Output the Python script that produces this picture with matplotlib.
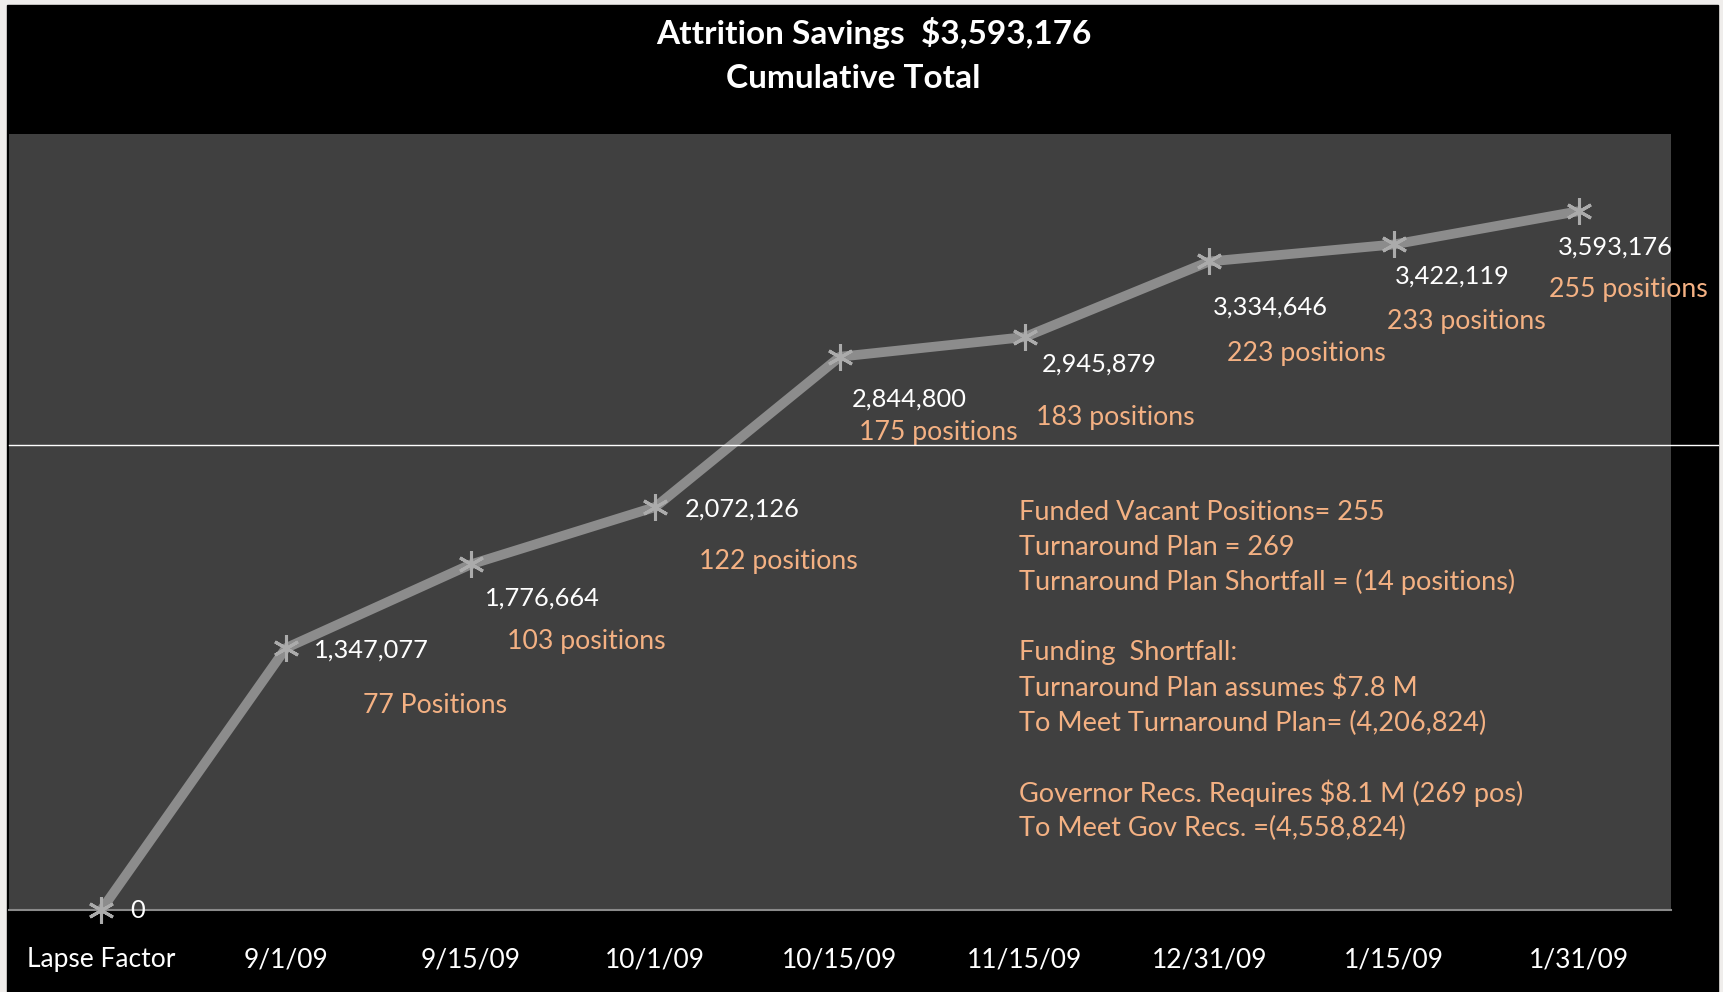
import matplotlib
matplotlib.use('Agg')
import matplotlib.pyplot as plt
from matplotlib.patches import Rectangle
from matplotlib.lines import Line2D

plt.rcParams['font.family'] = ['Lato', 'DejaVu Sans']

# data
categories = ['Lapse Factor', '9/1/09', '9/15/09', '10/1/09', '10/15/09',
              '11/15/09', '12/31/09', '1/15/09', '1/31/09']
savings = [0, 1347077, 1776664, 2072126, 2844800, 2945879, 3334646, 3422119, 3593176]
value_labels = ['0', '1,347,077', '1,776,664', '2,072,126', '2,844,800',
                '2,945,879', '3,334,646', '3,422,119', '3,593,176']
position_labels = [None, '77 Positions', '103 positions', '122 positions', '175 positions',
                   '183 positions', '223 positions', '233 positions', '255 positions']
notes = ['Funded Vacant Positions= 255',
         'Turnaround Plan = 269',
         'Turnaround Plan Shortfall = (14 positions)',
         '',
         'Funding  Shortfall:',
         'Turnaround Plan assumes $7.8 M',
         'To Meet Turnaround Plan= (4,206,824)',
         '',
         'Governor Recs. Requires $8.1 M (269 pos)',
         'To Meet Gov Recs. =(4,558,824)']

W, H = 1724, 992
fig = plt.figure(figsize=(W / 100, H / 100), dpi=100, facecolor='#efedeb')
fig.patches.append(Rectangle((7 / W, 0), (1718 - 7) / W, (H - 5) / H,
                             transform=fig.transFigure, color='black', zorder=0))

ax = fig.add_axes([9 / W, (H - 910) / H, (1671 - 9) / W, (910 - 134) / H])
ax.set_zorder(1)
ax.set_facecolor('#404040')
x = list(range(len(categories)))
ax.plot(x, savings, color='#8c8c8c', linewidth=7, solid_capstyle='butt', zorder=3)
ax.plot(x, savings, linestyle='none', marker=(6, 2, 0), markersize=19,
        markeredgewidth=2.2, color='#ababab', zorder=4, clip_on=False)
ax.set_xlim(-0.5, len(categories) - 0.5)
ax.set_ylim(0, 3.99e6)
ax.set_yticks([])
ax.set_xticks(x)
ax.set_xticklabels(categories, color='white', fontsize=19)
ax.tick_params(axis='x', length=0, pad=27)
for s in ['top', 'right', 'left']:
    ax.spines[s].set_visible(False)
ax.spines['bottom'].set_color('#8a8a8a')
ax.spines['bottom'].set_linewidth(1.5)

# label offsets in pixels (dx, dy down)
val_off = [(29, 0), (28, 2), (14, 34), (29, 2), (12, 42), (17, 27), (4, 46), (1, 32), (-21, 36)]
pos_off = [None, (77, 57), (36, 77), (44, 54), (19, 76), (11, 80), (18, 92), (-7, 77), (-30, 78)]
for i in x:
    dx, dy = val_off[i]
    ax.annotate(value_labels[i], (x[i], savings[i]), xytext=(dx, -dy),
                textcoords='offset pixels', ha='left', va='center',
                color='white', fontsize=18.3, zorder=5, annotation_clip=False)
    if position_labels[i]:
        dx, dy = pos_off[i]
        ax.annotate(position_labels[i], (x[i], savings[i]), xytext=(dx, -dy),
                    textcoords='offset pixels', ha='left', va='center',
                    color='#f4b183', fontsize=19.2, zorder=5, annotation_clip=False)

# thin white rule across the chart
fig.lines.append(Line2D([9 / W, 1718 / W], [(H - 445) / H] * 2,
                        transform=fig.transFigure, color='white', linewidth=1, zorder=6))

# notes block
for k, line in enumerate(notes):
    fig.text(1019 / W, (H - 512 - k * 35.2) / H, line, color='#f4b183',
             fontsize=19.5, ha='left', va='center', zorder=7)

fig.text(874 / W, (H - 33) / H, 'Attrition Savings  $3,593,176', color='white',
         fontsize=24, fontweight='bold', ha='center', va='center', zorder=7)
fig.text(853 / W, (H - 78) / H, 'Cumulative Total', color='white',
         fontsize=24, fontweight='bold', ha='center', va='center', zorder=7)

fig.savefig('out.png', dpi=100, facecolor=fig.get_facecolor())
